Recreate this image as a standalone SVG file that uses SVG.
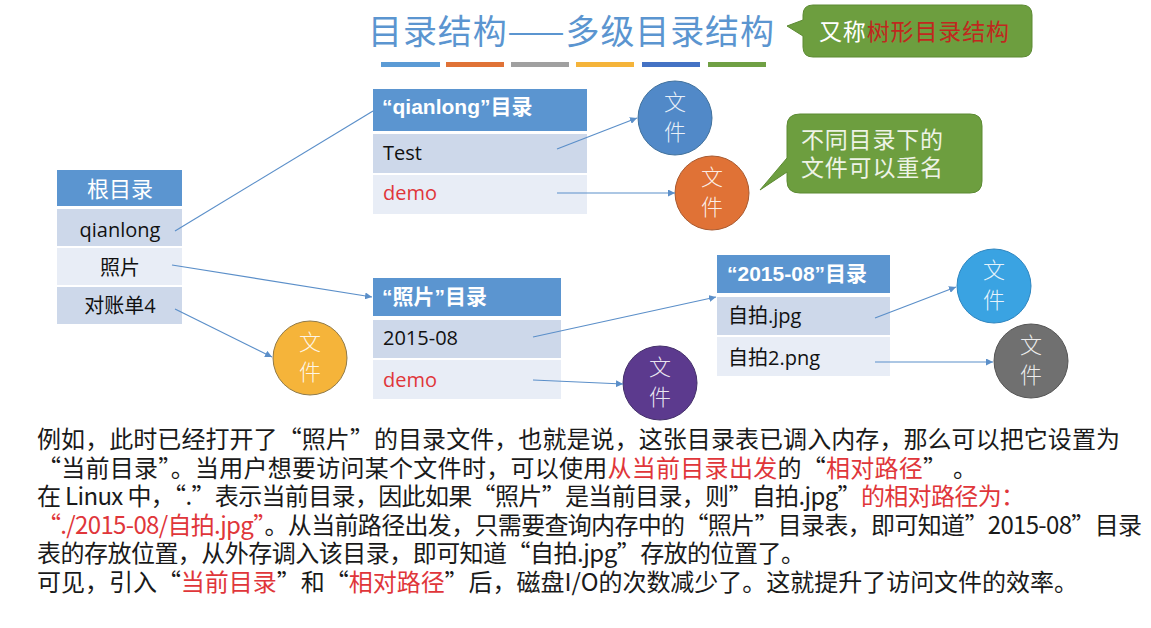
<svg xmlns="http://www.w3.org/2000/svg" width="1151" height="628" viewBox="0 0 1151 628">
<style>
.hd{fill:#5b95d0}
.rd{fill:#cdd8ea}
.rl{fill:#e8edf6}
.ht{font-family:"Liberation Sans","Noto Sans CJK SC",sans-serif;font-size:21px;font-weight:bold;fill:#fff}
.hc{font-family:"Noto Sans CJK SC",sans-serif;font-size:22px;fill:#fff}
.rt{font-family:"Open Sans","Noto Sans CJK SC",sans-serif;font-size:20px;fill:#111}
.red{fill:#e0363a}
.ft{font-family:"Noto Sans CJK SC",sans-serif;font-size:22px;font-weight:300;fill:#fff;fill-opacity:0.88;text-anchor:middle}
.cn{fill:none;stroke:#5b8fc9;stroke-width:1.2}
.p{font-family:"Noto Sans CJK SC",sans-serif;font-size:24px;fill:#1a1a1a}
.pr{fill:#e0363a}
.call{fill:#6d9e3f;stroke:#5c8a33;stroke-width:1}
.ct{font-family:"Noto Sans CJK SC",sans-serif;font-size:23px;fill:#eef3e6}
</style>
<defs>
<marker id="ah" viewBox="0 0 10 10" refX="10" refY="5" markerWidth="7" markerHeight="7" markerUnits="userSpaceOnUse" orient="auto">
<path d="M0,0 L10,5 L0,10 z" fill="#5b8fc9"/>
</marker>
</defs>
<rect width="1151" height="628" fill="#fff"/>

<g id="title">
<text x="368" y="44" font-family="Noto Sans CJK SC, sans-serif" font-size="34" fill="#5b95d0" textLength="406" lengthAdjust="spacing">目录结构——多级目录结构</text>
<rect x="381" y="62" width="59" height="5" fill="#5b9bd5"/>
<rect x="446" y="62" width="58" height="5" fill="#e07236"/>
<rect x="511" y="62" width="58" height="5" fill="#a0a0a0"/>
<rect x="576" y="62" width="58" height="5" fill="#f5b43a"/>
<rect x="642" y="62" width="58" height="5" fill="#4472c4"/>
<rect x="708" y="62" width="58" height="5" fill="#70a044"/>
</g>

<g id="callout1">
<path class="call" d="M813,5 H1022 Q1032,5 1032,15 V47 Q1032,57 1022,57 H813 Q803,57 803,47 V36 L787,26 L803,20 V15 Q803,5 813,5 Z"/>
<text x="819" y="40" font-family="Noto Sans CJK SC, sans-serif" font-size="23" fill="#fff" textLength="190" lengthAdjust="spacing">又称<tspan fill="#c0281e">树形目录结构</tspan></text>
</g>

<g id="callout2">
<path class="call" d="M800,114 H970 Q982,114 982,126 V181 Q982,193 970,193 H800 Q787,193 787,181 V172 L760,190 L787,158 V126 Q787,114 800,114 Z"/>
<text class="ct" x="801" y="148" textLength="142" lengthAdjust="spacing">不同目录下的</text>
<text class="ct" x="801" y="176" textLength="142" lengthAdjust="spacing">文件可以重名</text>
</g>

<g id="root">
<rect class="hd" x="57" y="170" width="125" height="36"/>
<text class="hc" x="120" y="197" text-anchor="middle">根目录</text>
<rect class="rd" x="57" y="209" width="125" height="37"/>
<text class="rt" x="120" y="237" text-anchor="middle">qianlong</text>
<rect class="rl" x="57" y="248" width="125" height="37"/>
<text class="rt" x="120" y="275" text-anchor="middle">照片</text>
<rect class="rd" x="57" y="287" width="125" height="37"/>
<text class="rt" x="120" y="313" text-anchor="middle">对账单4</text>
</g>

<g id="dir-qianlong">
<rect class="hd" x="373" y="89" width="214" height="42"/>
<text class="ht" x="382" y="114">“qianlong”目录</text>
<rect class="rd" x="373" y="134" width="214" height="39"/>
<text class="rt" x="383" y="160">Test</text>
<rect class="rl" x="373" y="175" width="214" height="39"/>
<text class="rt red" x="383" y="200">demo</text>
</g>

<g id="dir-photo">
<rect class="hd" x="373" y="278" width="188" height="38"/>
<text class="ht" x="382" y="304">“照片”目录</text>
<rect class="rd" x="373" y="320" width="188" height="38"/>
<text class="rt" x="383" y="345">2015-08</text>
<rect class="rl" x="373" y="360" width="188" height="39"/>
<text class="rt red" x="383" y="387">demo</text>
</g>

<g id="dir-2015">
<rect class="hd" x="717" y="255" width="173" height="38"/>
<text class="ht" x="727" y="281">“2015-08”目录</text>
<rect class="rd" x="717" y="297" width="173" height="38"/>
<text class="rt" x="728" y="323">自拍.jpg</text>
<rect class="rl" x="717" y="337" width="173" height="39"/>
<text class="rt" x="728" y="365">自拍2.png</text>
</g>

<g id="file1">
<circle cx="675" cy="118" r="37" fill="#5189c8" stroke="#41719c"/>
<text class="ft" x="675" y="110">文</text><text class="ft" x="675" y="140">件</text>
</g>
<g id="file2">
<circle cx="712" cy="193" r="37" fill="#e07236" stroke="#a85a30"/>
<text class="ft" x="712" y="185">文</text><text class="ft" x="712" y="215">件</text>
</g>
<g id="file3">
<circle cx="310" cy="358" r="37" fill="#f5b43a" stroke="#8f7a4a"/>
<text class="ft" x="310" y="350">文</text><text class="ft" x="310" y="380">件</text>
</g>
<g id="file4">
<circle cx="660" cy="383" r="37" fill="#5c3a8e" stroke="#44306a"/>
<text class="ft" x="660" y="375">文</text><text class="ft" x="660" y="405">件</text>
</g>
<g id="file5">
<circle cx="994" cy="286" r="37" fill="#3aa3e2" stroke="#2f86c0"/>
<text class="ft" x="994" y="278">文</text><text class="ft" x="994" y="308">件</text>
</g>
<g id="file6">
<circle cx="1031" cy="361" r="37" fill="#707070" stroke="#555"/>
<text class="ft" x="1031" y="353">文</text><text class="ft" x="1031" y="383">件</text>
</g>

<g id="connectors">
<line class="cn" x1="175" y1="231" x2="373" y2="111"/>
<line class="cn" x1="172" y1="265" x2="372" y2="297" marker-end="url(#ah)"/>
<line class="cn" x1="175" y1="309" x2="272" y2="357" marker-end="url(#ah)"/>
<line class="cn" x1="557" y1="149" x2="637" y2="118" marker-end="url(#ah)"/>
<line class="cn" x1="557" y1="193" x2="675" y2="193" marker-end="url(#ah)"/>
<line class="cn" x1="533" y1="337" x2="716" y2="297" marker-end="url(#ah)"/>
<line class="cn" x1="533" y1="380" x2="623" y2="384" marker-end="url(#ah)"/>
<line class="cn" x1="875" y1="318" x2="956" y2="287" marker-end="url(#ah)"/>
<line class="cn" x1="875" y1="362" x2="993" y2="362" marker-end="url(#ah)"/>
</g>

<g id="paragraph">
<text class="p" x="37" y="448" textLength="1083" lengthAdjust="spacing">例如，此时已经打开了“照片”的目录文件，也就是说，这张目录表已调入内存，那么可以把它设置为</text>
<text class="p" x="37" y="477" textLength="940" lengthAdjust="spacing">“当前目录”。当用户想要访问某个文件时，可以使用<tspan class="pr">从当前目录出发</tspan>的“<tspan class="pr">相对路径</tspan>” 。</text>
<text class="p" x="37" y="505" textLength="988" lengthAdjust="spacing">在 Linux 中，“.”表示当前目录，因此如果“照片”是当前目录，则”自拍.jpg”<tspan class="pr">的相对路径为：</tspan></text>
<text class="p" x="37" y="534" textLength="1105" lengthAdjust="spacing"><tspan class="pr">“./2015-08/自拍.jpg”</tspan>。从当前路径出发，只需要查询内存中的“照片”目录表，即可知道”2015-08”目录</text>
<text class="p" x="37" y="562" textLength="768" lengthAdjust="spacing">表的存放位置，从外存调入该目录，即可知道“自拍.jpg”存放的位置了。</text>
<text class="p" x="37" y="591" textLength="1041" lengthAdjust="spacing">可见，引入“<tspan class="pr">当前目录</tspan>”和“<tspan class="pr">相对路径</tspan>”后，磁盘I/O的次数减少了。这就提升了访问文件的效率。</text>
</g>
</svg>
